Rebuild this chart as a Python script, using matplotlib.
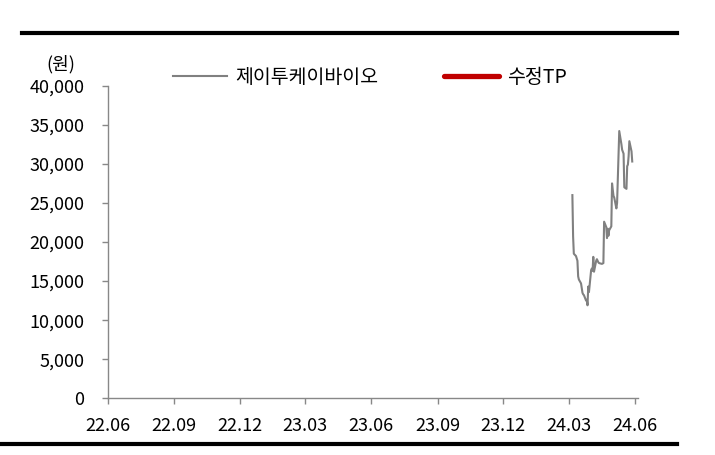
import matplotlib
matplotlib.use("Agg")
import matplotlib.pyplot as plt
import matplotlib.dates as mdates
from matplotlib.lines import Line2D
import pandas as pd

plt.rcParams['font.family'] = ['Noto Sans CJK KR', 'DejaVu Sans']
plt.rcParams['font.size'] = 13

# Stock price (KRW)
price_dates = [
    "2024-03-06", "2024-03-07", "2024-03-08", "2024-03-11", "2024-03-13", "2024-03-14",
    "2024-03-15", "2024-03-18", "2024-03-20", "2024-03-21", "2024-03-22", "2024-03-25",
    "2024-03-26", "2024-03-27", "2024-03-28", "2024-03-29", "2024-04-01", "2024-04-02",
    "2024-04-03", "2024-04-04", "2024-04-05", "2024-04-08", "2024-04-09", "2024-04-11",
    "2024-04-12", "2024-04-16", "2024-04-18", "2024-04-19", "2024-04-22", "2024-04-23",
    "2024-04-24", "2024-04-25", "2024-04-26", "2024-04-29", "2024-04-30", "2024-05-02",
    "2024-05-03", "2024-05-06", "2024-05-07", "2024-05-10", "2024-05-13", "2024-05-14",
    "2024-05-16", "2024-05-17", "2024-05-20", "2024-05-21", "2024-05-22", "2024-05-23",
    "2024-05-24", "2024-05-27", "2024-05-28",
]
price_values = [
    26000, 20700, 18500, 18200, 17600, 15600,
    15200, 14700, 13500, 13300, 13200, 12500,
    12600, 11900, 14300, 13600, 16400, 16600,
    16300, 18100, 16200, 17600, 17800, 17400,
    17300, 17200, 17300, 22600, 21900, 20500,
    21700, 20800, 21500, 22000, 27500, 25900,
    25700, 24300, 25000, 34200, 32500, 31800,
    31300, 27000, 26800, 29700, 29900, 31000,
    32900, 31600, 30300,
]
# Target price series (no points visible in the chart)
tp_dates = []
tp_values = []

x_start, x_end = "2022-06-01", "2024-06-05"
y_ticks = [0, 5000, 10000, 15000, 20000, 25000, 30000, 35000, 40000]

fig = plt.figure(figsize=(7.15, 4.55), dpi=100)
ax = fig.add_axes([108 / 715, 1 - 398.3 / 455, 530 / 715, 312.6 / 455])

ax.plot(pd.to_datetime(price_dates), price_values, color="#808080", lw=1.5,
        label="제이투케이바이오")
ax.plot(pd.to_datetime(tp_dates), tp_values, color="#C00000", lw=3.8,
        solid_capstyle="round", label="수정TP")

ax.set_xlim(pd.Timestamp(x_start), pd.Timestamp(x_end))
ax.set_ylim(0, 40000)
ax.set_yticks(y_ticks)
ax.set_yticklabels([f"{v:,}" for v in y_ticks])
ax.xaxis.set_major_locator(mdates.MonthLocator(bymonth=[3, 6, 9, 12]))
ax.xaxis.set_major_formatter(mdates.DateFormatter("%y.%m"))

for s in ["top", "right"]:
    ax.spines[s].set_visible(False)
for s in ["left", "bottom"]:
    ax.spines[s].set_color("#888888")
    ax.spines[s].set_linewidth(1.0)
ax.tick_params(axis="both", direction="out", width=1.0, color="#888888",
               labelsize=13, labelcolor="black")
ax.tick_params(axis="x", length=4.5, pad=9)
ax.tick_params(axis="y", length=4.0, pad=13)

ax.text(-0.0887, 1.069, "(원)", transform=ax.transAxes, ha="center", va="center", fontsize=13)

ax.legend(loc="center left", bbox_to_anchor=(0.1226, 1.0256), ncol=2, frameon=False,
          borderpad=0, borderaxespad=0, fontsize=14, handlelength=2.8,
          handletextpad=0.4, columnspacing=3.4)

# top and bottom rules
fig.add_artist(Line2D([22 / 715, 677 / 715], [1 - 33 / 455] * 2, color="black", lw=3.0))
fig.add_artist(Line2D([0, 677 / 715], [1 - 444 / 455] * 2, color="black", lw=3.0))

fig.savefig("out.png", dpi=100)
